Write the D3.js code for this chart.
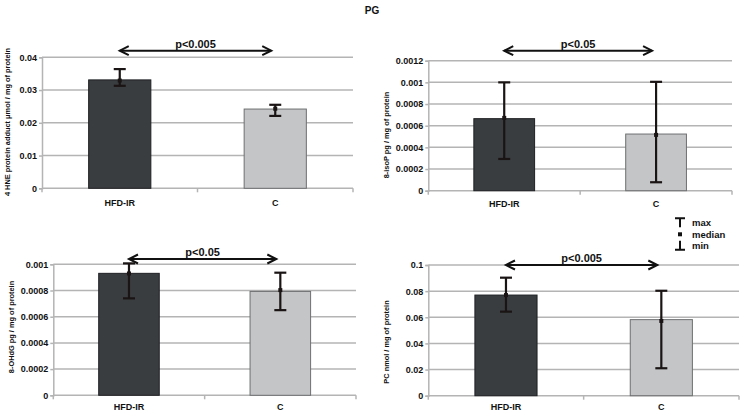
<!DOCTYPE html>
<html>
<head>
<meta charset="utf-8">
<script src="https://cdn.jsdelivr.net/npm/d3@7"></script>
<style>
  body { margin: 0; background: #fff; }
  text { font-family: "Liberation Sans", Arial, sans-serif; font-weight: bold; fill: #111; }
</style>
</head>
<body>
<div id="chart"></div>
<script>
// Groups
const categories = ["HFD-IR", "C"];

// 4 HNE protein adduct
const hneMean = [0.0331, 0.0242];
const hneMax = [0.0364, 0.0255];
const hneMedian = [0.0329, 0.0243];
const hneMin = [0.0313, 0.0221];
const hneTicks = [0, 0.01, 0.02, 0.03, 0.04];

// 8-isoP
const isoMean = [0.000665, 0.000523];
const isoMax = [0.00100, 0.001005];
const isoMedian = [0.000672, 0.000515];
const isoMin = [0.000293, 0.000078];
const isoTicks = [0, 0.0002, 0.0004, 0.0006, 0.0008, 0.001, 0.0012];

// 8-OHdG
const ohdgMean = [0.000931, 0.000793];
const ohdgMax = [0.001007, 0.000936];
const ohdgMedian = [0.000930, 0.000803];
const ohdgMin = [0.000740, 0.000650];
const ohdgTicks = [0, 0.0002, 0.0004, 0.0006, 0.0008, 0.001];

// PC
const pcMean = [0.0770, 0.0582];
const pcMax = [0.0903, 0.0803];
const pcMedian = [0.0770, 0.0572];
const pcMin = [0.0643, 0.0210];
const pcTicks = [0, 0.02, 0.04, 0.06, 0.08, 0.1];

const pLabels = ["p<0.005", "p<0.05", "p<0.05", "p<0.005"];
const yTitles = [
  "4 HNE protein adduct \u03bcmol / mg of protein",
  "8-isoP pg / mg of protein",
  "8-OHdG pg / mg of protein",
  "PC nmol / mg of protein"
];
const legendLabels = ["max", "median", "min"];

const W = 743, H = 415;
const darkFill = "#3a3d40", lightFill = "#c3c5c6";
const gridColor = "#b4b4b4";
const barInk = "#1a1414";

const svg = d3.select("#chart").append("svg")
  .attr("width", W).attr("height", H);

// Title
svg.append("text")
  .attr("x", 372).attr("y", 14)
  .attr("text-anchor", "middle")
  .style("font-size", "10px")
  .text("PG");

// Panel layout (pixel boxes)
const panels = [
  {mean: hneMean, max: hneMax, med: hneMedian, min: hneMin, ticks: hneTicks,
   x0: 42, x1: 353, top: 57.3, bottom: 188.3, arrowY: 50.7, labelDy: 18, titleX: 7, titleY: 122},
  {mean: isoMean, max: isoMax, med: isoMedian, min: isoMin, ticks: isoTicks,
   x0: 428.3, x1: 732, top: 60.7, bottom: 190.7, arrowY: 50.7, labelDy: 16, titleX: 386, titleY: 135},
  {mean: ohdgMean, max: ohdgMax, med: ohdgMedian, min: ohdgMin, ticks: ohdgTicks,
   x0: 53.3, x1: 356, top: 264.3, bottom: 395.3, arrowY: 259, labelDy: 14.5, titleX: 11, titleY: 327},
  {mean: pcMean, max: pcMax, med: pcMedian, min: pcMin, ticks: pcTicks,
   x0: 428.3, x1: 739, top: 265, bottom: 395.7, arrowY: 265, labelDy: 14.5, titleX: 386, titleY: 342}
];

panels.forEach(function(p, i) {
  const g = svg.append("g");

  const xScale = d3.scaleBand()
    .domain(categories)
    .range([p.x0, p.x1])
    .paddingInner(0.6)
    .paddingOuter(0.3);

  const yScale = d3.scaleLinear()
    .domain([0, d3.max(p.ticks)])
    .range([p.bottom, p.top]);

  // Gridlines
  g.selectAll(".grid")
    .data(p.ticks.slice(1))
    .enter().append("line")
    .attr("x1", p.x0).attr("x2", p.x1)
    .attr("y1", d => yScale(d)).attr("y2", d => yScale(d))
    .attr("stroke", gridColor).attr("stroke-width", 1.5);

  // Y axis
  const yAxis = g.append("g")
    .attr("transform", "translate(" + p.x0 + ",0)")
    .call(d3.axisLeft(yScale).tickValues(p.ticks).tickSize(3).tickPadding(2)
      .tickFormat(d => String(+d.toPrecision(6))));
  yAxis.select(".domain").attr("stroke", gridColor).attr("stroke-width", 1.5);
  yAxis.selectAll(".tick line").attr("stroke", gridColor).attr("stroke-width", 1.5);
  yAxis.selectAll(".tick text").style("font-size", "9px").attr("fill", "#111");

  // X axis
  const edges = [p.x0, p.x0 + (p.x1 - p.x0) / 2, p.x1];
  g.append("line")
    .attr("x1", p.x0).attr("x2", p.x1)
    .attr("y1", p.bottom).attr("y2", p.bottom)
    .attr("stroke", gridColor).attr("stroke-width", 1.5);
  g.selectAll(".xtick")
    .data(edges)
    .enter().append("line")
    .attr("x1", d => d).attr("x2", d => d)
    .attr("y1", p.bottom).attr("y2", p.bottom + 4)
    .attr("stroke", gridColor).attr("stroke-width", 1.5);
  g.selectAll(".xlabel")
    .data(categories)
    .enter().append("text")
    .attr("x", d => xScale(d) + xScale.bandwidth() / 2)
    .attr("y", p.bottom + p.labelDy)
    .attr("text-anchor", "middle")
    .style("font-size", "9px")
    .text(d => d);

  // Bars
  g.selectAll(".bar")
    .data(categories)
    .enter().append("rect")
    .attr("x", d => xScale(d))
    .attr("y", (d, j) => yScale(p.mean[j]))
    .attr("width", xScale.bandwidth())
    .attr("height", (d, j) => p.bottom - yScale(p.mean[j]))
    .attr("fill", (d, j) => j === 0 ? darkFill : lightFill)
    .attr("stroke", (d, j) => j === 0 ? "#1e2022" : "#6d6f70")
    .attr("stroke-width", 1);

  // Error bars (min - max) with median marker
  categories.forEach(function(c, j) {
    const cx = xScale(c) + xScale.bandwidth() / 2;
    g.append("line")
      .attr("x1", cx).attr("x2", cx)
      .attr("y1", yScale(p.max[j])).attr("y2", yScale(p.min[j]))
      .attr("stroke", barInk).attr("stroke-width", 2.2);
    [p.max[j], p.min[j]].forEach(function(v) {
      g.append("line")
        .attr("x1", cx - 6).attr("x2", cx + 6)
        .attr("y1", yScale(v)).attr("y2", yScale(v))
        .attr("stroke", barInk).attr("stroke-width", 2.2);
    });
    g.append("rect")
      .attr("x", cx - 2).attr("y", yScale(p.med[j]) - 2)
      .attr("width", 4).attr("height", 4)
      .attr("fill", barInk);
  });

  // Significance arrow
  const ax1 = xScale(categories[0]) + xScale.bandwidth() / 2;
  const ax2 = xScale(categories[1]) + xScale.bandwidth() / 2 - 4;
  const ay = p.arrowY;
  g.append("line")
    .attr("x1", ax1).attr("x2", ax2)
    .attr("y1", ay).attr("y2", ay)
    .attr("stroke", "#111").attr("stroke-width", 2);
  g.append("path")
    .attr("d", "M" + (ax1 + 9) + "," + (ay - 4.5) + "L" + ax1 + "," + ay + "L" + (ax1 + 9) + "," + (ay + 4.5))
    .attr("fill", "none").attr("stroke", "#111").attr("stroke-width", 2);
  g.append("path")
    .attr("d", "M" + (ax2 - 9) + "," + (ay - 4.5) + "L" + ax2 + "," + ay + "L" + (ax2 - 9) + "," + (ay + 4.5))
    .attr("fill", "none").attr("stroke", "#111").attr("stroke-width", 2);
  g.append("text")
    .attr("x", (ax1 + ax2) / 2)
    .attr("y", ay - 3)
    .attr("text-anchor", "middle")
    .style("font-size", "11px")
    .text(pLabels[i]);

  // Y axis title
  g.append("text")
    .attr("transform", "translate(" + p.titleX + "," + p.titleY + ") rotate(-90)")
    .attr("text-anchor", "middle")
    .attr("dy", "0.35em")
    .style("font-size", "7.4px")
    .text(yTitles[i]);
});

// Legend
const legend = svg.append("g").attr("transform", "translate(680,0)");
const legendY = [222.3, 234.3, 245.7];
legendLabels.forEach(function(lab, k) {
  const y = legendY[k];
  if (k === 0) {
    legend.append("path").attr("d", "M-5," + (y - 4) + "H5M0," + (y - 4) + "V" + (y + 5))
      .attr("stroke", "#111").attr("stroke-width", 2).attr("fill", "none");
  } else if (k === 1) {
    legend.append("rect").attr("x", -2).attr("y", y - 2).attr("width", 4).attr("height", 4).attr("fill", "#111");
  } else {
    legend.append("path").attr("d", "M-5," + (y + 4) + "H5M0," + (y + 4) + "V" + (y - 5))
      .attr("stroke", "#111").attr("stroke-width", 2).attr("fill", "none");
  }
  legend.append("text")
    .attr("x", 12).attr("y", y)
    .attr("dy", "0.35em")
    .style("font-size", "9.5px")
    .text(lab);
});
</script>
</body>
</html>
